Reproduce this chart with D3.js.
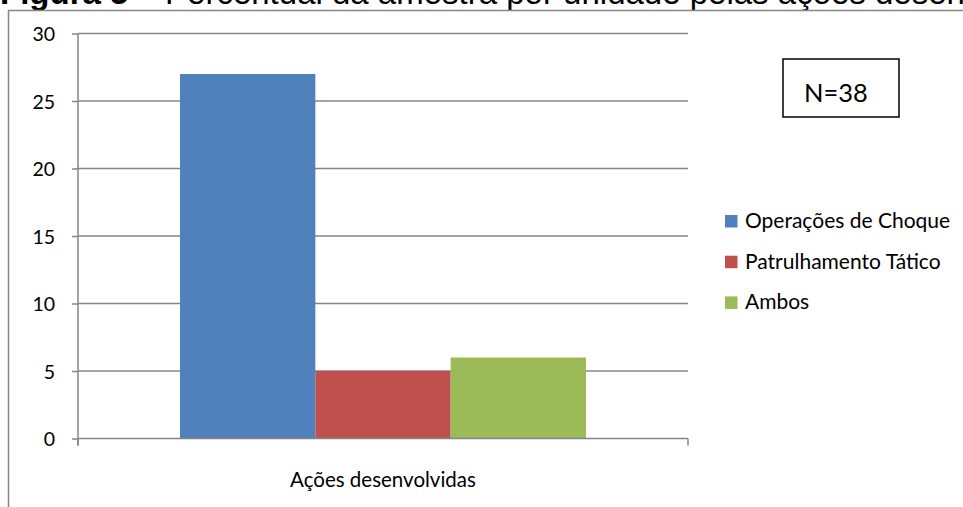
<!DOCTYPE html>
<html>
<head>
<meta charset="utf-8">
<script src="https://cdn.jsdelivr.net/npm/d3@7"></script>
<style>
  body { margin: 0; background: #fff; }
  svg { display: block; }
  text { font-family: Lato, "Open Sans", sans-serif; fill: #000; }
</style>
</head>
<body>
<div class="drawingboard"></div>
<script>
// data
var categories = ["Ações desenvolvidas"];
var series = ["Operações de Choque", "Patrulhamento Tático", "Ambos"];
var values = [27, 5, 6];
var colors = ["#4F81BD", "#C0504D", "#9BBB59"];
var yTicks = [0, 5, 10, 15, 20, 25, 30];

var width = 963, height = 507;
var plot = { left: 78, right: 688, top: 33.5, bottom: 438.5 };

var svg = d3.select(".drawingboard")
    .append("svg")
    .attr("width", width)
    .attr("height", height);

// caption, cut off by the top of the page
var cap = svg.append("text")
    .attr("x", 0)
    .attr("y", 3.5)
    .style("font-family", "'Liberation Sans', Arial, sans-serif")
    .style("font-size", "33px");
cap.append("tspan").style("font-weight", "bold").text("Figura 5");
cap.append("tspan").text(" – Percentual da amostra por unidade pelas ações desenvolvidas");

// chart frame
svg.append("rect")
    .attr("x", 8.5).attr("y", 10.5)
    .attr("width", 1000).attr("height", 600)
    .style("fill", "none")
    .style("stroke", "#868686")
    .style("stroke-width", 1.5);

var y = d3.scaleLinear().domain([0, 30]).range([plot.bottom, plot.top]);
var x0 = d3.scaleBand().domain(categories).range([plot.left, plot.right]);
var x1 = d3.scaleBand().domain(series).range([0, x0.bandwidth()]).paddingOuter(0.754);

// gridlines
svg.append("g")
    .selectAll("line")
    .data(yTicks.filter(function (d) { return d > 0; }))
    .enter().append("line")
    .attr("x1", plot.left).attr("x2", plot.right)
    .attr("y1", function (d) { return y(d); })
    .attr("y2", function (d) { return y(d); })
    .style("stroke", "#868686")
    .style("stroke-width", 1.5);

// bars
var g = svg.append("g");
categories.forEach(function (c) {
    g.selectAll(".bar")
        .data(values)
        .enter().append("rect")
        .attr("class", "bar")
        .attr("x", function (d, i) { return x0(c) + x1(series[i]); })
        .attr("width", x1.bandwidth())
        .attr("y", function (d) { return y(d); })
        .attr("height", function (d) { return y(0) - y(d); })
        .style("fill", function (d, i) { return colors[i]; });
});

// y axis
var yAxis = svg.append("g")
    .attr("transform", "translate(" + plot.left + ",0)")
    .call(d3.axisLeft(y).tickValues(yTicks).tickSize(6).tickPadding(17));
yAxis.select(".domain").remove();
yAxis.selectAll("line").style("stroke", "#868686").style("stroke-width", 1.5);
yAxis.selectAll("text")
    .style("font-family", "Lato, sans-serif")
    .style("font-size", "19.5px")
    .attr("dy", "0.36em");
yAxis.append("line")
    .attr("y1", plot.top).attr("y2", plot.bottom + 7)
    .style("stroke", "#868686").style("stroke-width", 1.5);

// x axis
var xAxis = svg.append("g")
    .attr("transform", "translate(0," + plot.bottom + ")");
xAxis.append("line")
    .attr("x1", plot.left).attr("x2", plot.right)
    .style("stroke", "#868686").style("stroke-width", 1.5);
xAxis.selectAll(".tick")
    .data([plot.left, plot.right])
    .enter().append("line")
    .attr("x1", function (d) { return d; }).attr("x2", function (d) { return d; })
    .attr("y1", 0).attr("y2", 7)
    .style("stroke", "#868686").style("stroke-width", 1.5);
xAxis.selectAll(".cat")
    .data(categories)
    .enter().append("text")
    .attr("x", function (d) { return x0(d) + x0.bandwidth() / 2; })
    .attr("y", 48)
    .style("text-anchor", "middle")
    .style("font-size", "20.5px")
    .text(function (d) { return d; });

// N box
svg.append("rect")
    .attr("x", 783).attr("y", 59)
    .attr("width", 116).attr("height", 58)
    .style("fill", "#fff")
    .style("stroke", "#000")
    .style("stroke-width", 1.5);
svg.append("text")
    .attr("x", 804).attr("y", 101.5)
    .style("font-size", "25.5px")
    .text("N=38");

// legend
var legend = svg.append("g")
    .selectAll("g")
    .data(series)
    .enter().append("g")
    .attr("transform", function (d, i) { return "translate(725," + (215 + i * 40.7) + ")"; });
legend.append("rect")
    .attr("width", 12.5).attr("height", 12.5)
    .style("fill", function (d, i) { return colors[i]; });
legend.append("text")
    .attr("x", 20).attr("y", 13)
    .style("font-size", "21px")
    .text(function (d) { return d; });
</script>
</body>
</html>
